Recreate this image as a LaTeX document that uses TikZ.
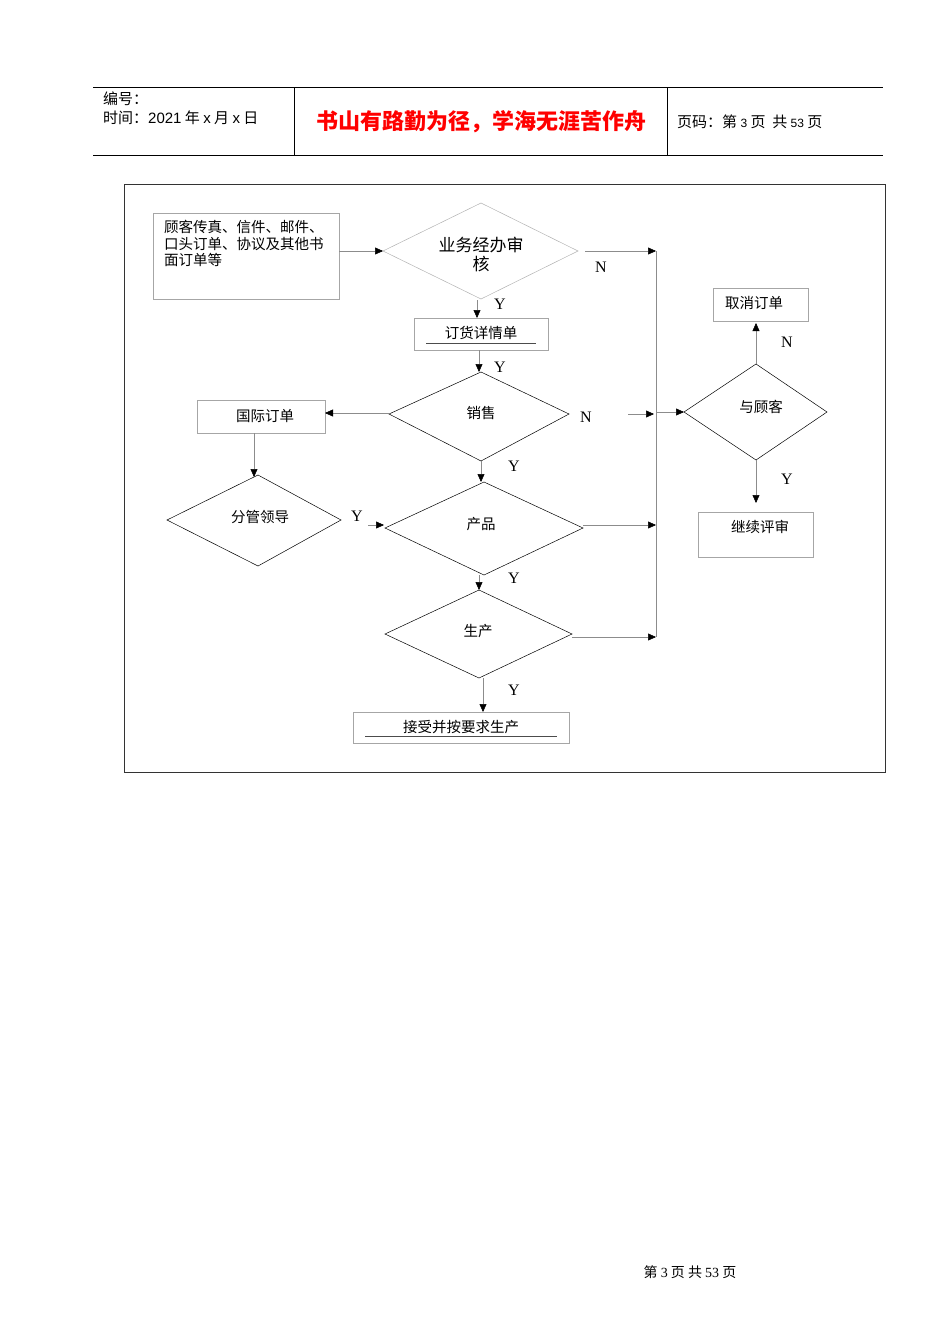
\documentclass[tikz,border=0pt]{standalone}
\usepackage{fontspec}
\setmainfont{Noto Sans CJK SC}
\newfontfamily\lserif{Liberation Serif}
\newfontfamily\lsans{Liberation Sans}
\usetikzlibrary{arrows.meta}
\begin{document}
\begin{tikzpicture}[x=1pt,y=-1pt,
  box/.style={draw=black!35,line width=0.6pt},
  dia/.style={draw=black,line width=0.5pt},
  con/.style={draw=black!45,line width=0.5pt,-{Triangle[length=8pt,width=7pt,fill=black,color=black]}},
  lbl/.style={font=\fontsize{14.5}{17}\selectfont,inner sep=0pt},
  yn/.style={font=\fontsize{16}{17}\selectfont\lserif,inner sep=0pt}]
\useasboundingbox (0,0) rectangle (950,1344);
% header
\draw[line width=0.6pt] (93,87) -- (883,87) (93,155) -- (883,155) (294,87) -- (294,155) (667,87) -- (667,155);
\node[anchor=west,inner sep=0pt,font=\fontsize{15}{17}\selectfont] (h1) at (103,99) {编号：};
\node[anchor=west,inner sep=0pt,font=\fontsize{15}{17}\selectfont] (h2) at (103,118) {时间：{\lsans 2021} 年 {\lsans x} 月 {\lsans x} 日};
\node[inner sep=0pt,text=red,font=\fontsize{22}{24}\selectfont\bfseries] (ht) at (481,122) {书山有路勤为径，学海无涯苦作舟};
\node[anchor=west,inner sep=0pt,font=\fontsize{15}{17}\selectfont] (hp) at (677,122) {页码：第 {\lsans\fontsize{12}{14}\selectfont 3} 页\ \ 共 {\lsans\fontsize{12}{14}\selectfont 53} 页};
\node[inner sep=0pt,font=\fontsize{14}{16}\selectfont] (ft) at (690,1272) {第 {\lserif 3} 页 共 {\lserif 53} 页};
% frame
\draw[line width=0.6pt,draw=black!80] (124,184) rectangle (885,772);
% boxes
\draw[box] (153,213) rectangle (339,299);
\node[anchor=north west,lbl,align=left,font=\fontsize{14.5}{16.5}\selectfont] (src) at (164,220) {顾客传真、信件、邮件、\\口头订单、协议及其他书\\面订单等};
\coordinate (srcE) at (339,251);
\draw[box] (414,318) rectangle (548,350);
\node[lbl] (b2) at (481,333) {订货详情单};
\draw[line width=1pt,black!70] (426,343) -- (536,343);
\draw[box] (197,400) rectangle (325,433);
\node[lbl] (intl) at (265,416) {国际订单};
\draw[box] (353,712) rectangle (569,743);
\node[lbl] (acc) at (461,727) {接受并按要求生产};
\draw[line width=1pt,black!70] (365,736) -- (557,736);
\draw[box] (713,288) rectangle (808,321);
\node[lbl] (cancel) at (754,303) {取消订单};
\draw[box] (698,512) rectangle (813,557);
\node[lbl] (cont) at (760,527) {继续评审};
% diamonds
\draw[dia,draw=black!30] (383,251) -- (481,203) -- (578,251) -- (481,299) -- cycle;
\node[lbl,align=center,font=\fontsize{17}{19}\selectfont] (d1) at (481,254) {业务经办审\\核};
\draw[dia] (389,414) -- (481,372) -- (569,414) -- (481,461) -- cycle;
\node[lbl] (d2) at (481,413) {销售};
\draw[dia] (167,520) -- (258,475) -- (341,520) -- (258,566) -- cycle;
\node[lbl] (d3) at (260,517) {分管领导};
\draw[dia] (385,528) -- (484,482) -- (583,528) -- (484,575) -- cycle;
\node[lbl] (d4) at (481,524) {产品};
\draw[dia] (385,634) -- (479,590) -- (572,634) -- (479,678) -- cycle;
\node[lbl] (d5) at (478,631) {生产};
\draw[dia] (684,412) -- (756,364) -- (827,412) -- (756,460) -- cycle;
\node[lbl] (d6) at (761,407) {与顾客};
% connectors
\coordinate (c1) at (383,251); \draw[con] (srcE) -- (c1);
\coordinate (v1) at (656,251); \coordinate (d1e) at (585,251);
\draw[con] (d1e) -- (v1);
\draw[draw=black!45,line width=0.5pt] (v1) -- (656,637);
\coordinate (d1b) at (477,300); \coordinate (b2t) at (477,318); \draw[con] (d1b) -- (b2t);
\coordinate (b2b) at (479,350); \coordinate (d2t) at (479,372); \draw[con] (b2b) -- (d2t);
\coordinate (d2l) at (389,413); \coordinate (intE) at (325,413); \draw[con] (d2l) -- (intE);
\coordinate (n2a) at (628,414); \coordinate (n2b) at (654,414); \draw[con] (n2a) -- (n2b);
\coordinate (vm) at (656,412); \coordinate (d6l) at (684,412); \draw[con] (vm) -- (d6l);
\coordinate (d2b) at (481,461); \coordinate (d4t) at (481,482); \draw[con] (d2b) -- (d4t);
\coordinate (intB) at (254,433); \coordinate (d3t) at (254,477); \draw[con] (intB) -- (d3t);
\coordinate (d3r) at (368,525); \coordinate (d4l) at (384,525); \draw[con] (d3r) -- (d4l);
\coordinate (d4r) at (583,525); \coordinate (v4) at (656,525); \draw[con] (d4r) -- (v4);
\coordinate (d4b) at (479,575); \coordinate (d5t) at (479,590); \draw[con] (d4b) -- (d5t);
\coordinate (d5r) at (572,637); \coordinate (v5) at (656,637); \draw[con] (d5r) -- (v5);
\coordinate (d5b) at (483,678); \coordinate (accT) at (483,712); \draw[con] (d5b) -- (accT);
\coordinate (d6t) at (756,364); \coordinate (canB) at (756,323); \draw[con] (d6t) -- (canB);
\coordinate (d6b) at (756,460); \coordinate (conT) at (756,503); \draw[con] (d6b) -- (conT);
% labels
\node[yn] (n1) at (601,267) {N};
\node[yn] (y1) at (500,304) {Y};
\node[yn] (y2) at (500,367) {Y};
\node[yn] (n2) at (586,417) {N};
\node[yn] (y3) at (514,466) {Y};
\node[yn] (y4) at (357,516) {Y};
\node[yn] (y5) at (514,578) {Y};
\node[yn] (y6) at (514,690) {Y};
\node[yn] (n3) at (787,342) {N};
\node[yn] (y7) at (787,479) {Y};
\end{tikzpicture}
\end{document}
